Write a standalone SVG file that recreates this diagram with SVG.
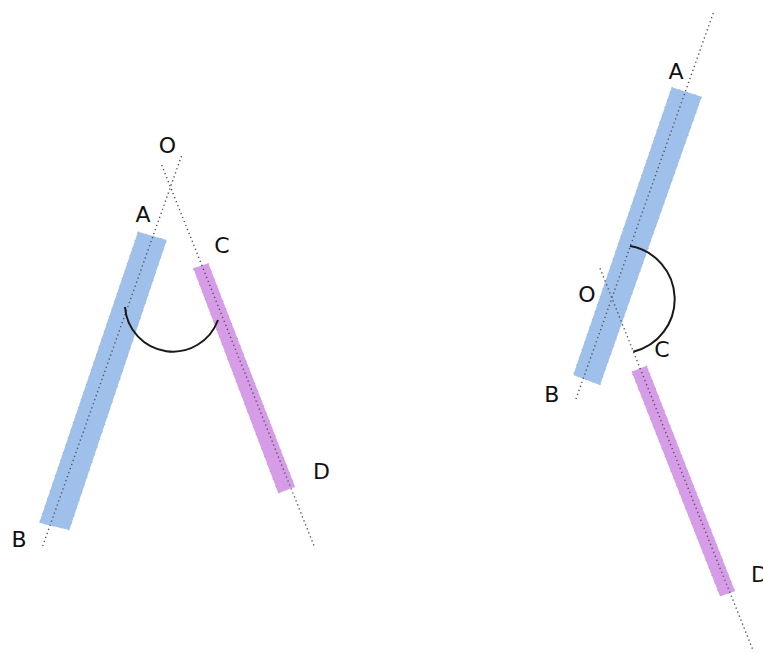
<svg xmlns="http://www.w3.org/2000/svg" width="763" height="653" viewBox="0 0 763 653">
  <style>
    .bg { fill: #ffffff; }
    .bar-blue { fill: #a0c0ec; stroke: #7a8aa0; stroke-width: 1; stroke-dasharray: 1 7; stroke-opacity: 0.6; }
    .bar-purple { fill: #d69ce8; stroke: #8a7a95; stroke-width: 1; stroke-dasharray: 1 7; stroke-opacity: 0.6; }
    .guide { fill: none; stroke: #555555; stroke-width: 1.4; stroke-dasharray: 1.3 3; }
    .angle { fill: none; stroke: #1a1a1a; stroke-width: 2; }
    .lbl { font-family: "DejaVu Sans", "Liberation Sans", sans-serif; font-size: 22px; fill: #111111; text-anchor: middle; }
  </style>
  <rect class="bg" x="0" y="0" width="763" height="653"/>

  <g id="left-figure">
    <g id="left-bars">
      <polygon id="left-bar-AB" class="bar-blue" points="138,231.7 166.7,240 69.3,530 39.3,522.7"/>
      <polygon id="left-bar-CD" class="bar-purple" points="193.3,268.3 208.3,263.3 295,486.7 278.3,493.3"/>
    </g>
    <g id="left-connectors">
      <line class="guide" x1="181.5" y1="156" x2="42" y2="548"/>
      <line class="guide" x1="161.7" y1="165" x2="315" y2="548.3"/>
      <path class="angle" d="M125,307 A48,48 0 0 0 218,320"/>
    </g>
    <g id="left-labels">
      <text class="lbl" x="167.5" y="152.5">O</text>
      <text class="lbl" x="143" y="221.5">A</text>
      <text class="lbl" x="222" y="252.5">C</text>
      <text class="lbl" x="321.5" y="478.5">D</text>
      <text class="lbl" x="19" y="546.5">B</text>
    </g>
  </g>

  <g id="right-figure">
    <g id="right-bars">
      <polygon id="right-bar-AB" class="bar-blue" points="671.7,87.3 701.7,96.7 600,385 573.3,375"/>
      <polygon id="right-bar-CD" class="bar-purple" points="631.7,371.7 646.7,365.7 735,591.3 720,596.3"/>
    </g>
    <g id="right-connectors">
      <line class="guide" x1="713.3" y1="13" x2="575" y2="401.7"/>
      <line class="guide" x1="600" y1="268.3" x2="753.3" y2="651"/>
      <path class="angle" d="M630,246 A54,54 0 0 1 633.3,351.7"/>
    </g>
    <g id="right-labels">
      <text class="lbl" x="676" y="78.5">A</text>
      <text class="lbl" x="587" y="301.5">O</text>
      <text class="lbl" x="662" y="356.5">C</text>
      <text class="lbl" x="551.7" y="401.5">B</text>
      <text class="lbl" x="759.5" y="581.5">D</text>
    </g>
  </g>
</svg>
